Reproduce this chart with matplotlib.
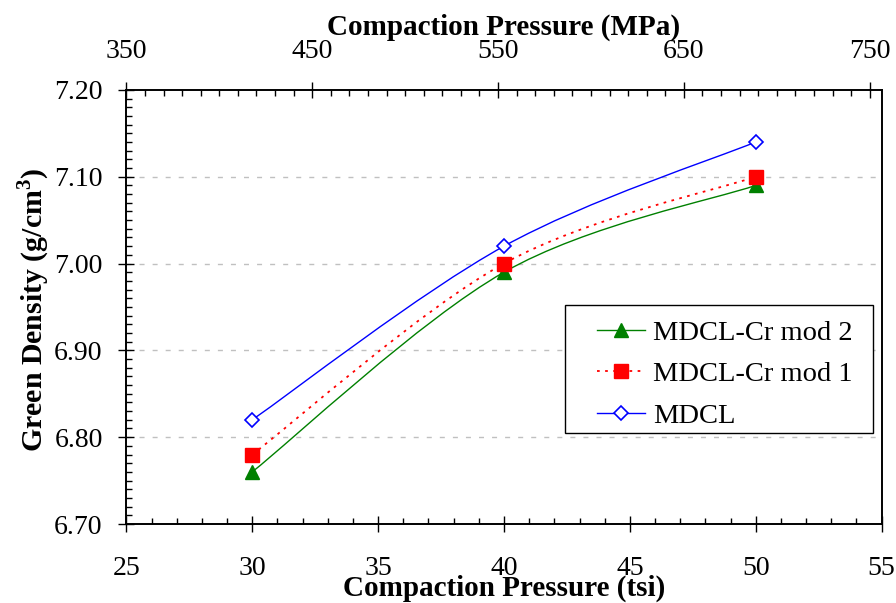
import matplotlib
matplotlib.use("Agg")
import matplotlib.pyplot as plt
import numpy as np
from matplotlib.path import Path
from matplotlib.patches import PathPatch, Rectangle
from matplotlib.lines import Line2D
from matplotlib.ticker import MultipleLocator, FormatStrFormatter

pressure_tsi = [30, 40, 50]
mdcl = [6.82, 7.02, 7.14]
mdcl_cr_mod1 = [6.78, 7.00, 7.10]
mdcl_cr_mod2 = [6.76, 6.99, 7.09]

series_names = ["MDCL-Cr mod 2", "MDCL-Cr mod 1", "MDCL"]
mpa_ticks = [350, 450, 550, 650, 750]

plt.rcParams['font.family'] = ['Liberation Serif', 'DejaVu Serif']
plt.rcParams['mathtext.fontset'] = 'custom'
plt.rcParams['mathtext.rm'] = 'Liberation Serif'
plt.rcParams['mathtext.bf'] = 'Liberation Serif:bold'


def smooth_path(x, y):
    # Excel-like smoothed line: Bezier segments with Catmull-Rom control points
    p = np.column_stack([x, y]).astype(float)
    n = len(p)
    verts = [p[0]]
    codes = [Path.MOVETO]
    for i in range(n - 1):
        p_prev = p[i - 1] if i > 0 else p[i]
        p_next = p[i + 2] if i + 2 < n else p[i + 1]
        c1 = p[i] + (p[i + 1] - p_prev) / 6.0
        c2 = p[i + 1] - (p_next - p[i]) / 6.0
        verts += [c1, c2, p[i + 1]]
        codes += [Path.CURVE4] * 3
    return Path(verts, codes)


fig = plt.figure(figsize=(8.96, 6.03), dpi=100)
ax = fig.add_axes([0.141, 0.131, 0.843, 0.720])

dotted = (0, (1.5, 3.0))
styles = [
    dict(color='#008000', ls='-', lw=1.0, marker='^', ms=10.5, mfc='#008000', mec='#008000', mew=1.0),
    dict(color='#FF0000', ls=dotted, lw=1.3, marker='s', ms=10.5, mfc='#FF0000', mec='#FF0000', mew=1.0),
    dict(color='#0000FF', ls='-', lw=1.0, marker='D', ms=7.2, mfc='white', mec='#0000FF', mew=1.2),
]
series = [mdcl_cr_mod2, mdcl_cr_mod1, mdcl]

handles = []
for name, vals, st in zip(series_names, series, styles):
    patch = PathPatch(smooth_path(pressure_tsi, vals), fill=False,
                      edgecolor=st['color'], linestyle=st['ls'], lw=st['lw'], zorder=3)
    ax.add_patch(patch)
    ax.plot(pressure_tsi, vals, ls='none', marker=st['marker'], ms=st['ms'],
            mfc=st['mfc'], mec=st['mec'], mew=st['mew'], zorder=4)
    handles.append(Line2D([], [], color=st['color'], ls=st['ls'], lw=st['lw'],
                          marker=st['marker'], ms=st['ms'], mfc=st['mfc'],
                          mec=st['mec'], mew=st['mew'], label=name))

ax.set_xlim(25, 55)
ax.set_ylim(6.70, 7.20)
ax.xaxis.set_major_locator(MultipleLocator(5))
ax.xaxis.set_minor_locator(MultipleLocator(1))
ax.yaxis.set_major_locator(MultipleLocator(0.1))
ax.yaxis.set_minor_locator(MultipleLocator(0.01))
ax.yaxis.set_major_formatter(FormatStrFormatter('%.2f'))

for yv in [6.80, 6.90, 7.00, 7.10]:
    ax.axhline(yv, color='#C0C0C0', lw=1.0, ls=(0, (3.6, 5.8)), zorder=1)

ax.tick_params(which='major', direction='inout', length=12, width=1.0,
               labelsize=20, top=False, right=False)
ax.tick_params(which='minor', direction='in', length=4.5, width=1.0,
               top=False, right=False)
ax.tick_params(axis='x', which='major', pad=17)
ax.tick_params(axis='y', which='major', pad=11)
for sp in ax.spines.values():
    sp.set_linewidth(1.2)

ax.set_xlabel('Compaction Pressure (tsi)', fontsize=21, fontweight='bold')
ax.xaxis.set_label_coords(0.5, -0.165)
ax.xaxis.label.set_verticalalignment('baseline')
ax.set_ylabel('Green Density (g/cm$^\\mathbf{3}$)', fontsize=21.5, fontweight='bold')
ax.yaxis.set_label_coords(-0.123, 0.493)
ax.yaxis.label.set_verticalalignment('center')

ax2 = ax.twiny()
ax2.set_xlim(350, 756.4)
ax2.set_xticks(mpa_ticks)
ax2.xaxis.set_minor_locator(MultipleLocator(10))
ax2.tick_params(which='major', direction='inout', length=12, width=1.0, labelsize=20, pad=12.5)
ax2.tick_params(which='minor', direction='in', length=4.5, width=1.0)
ax2.set_xlabel('Compaction Pressure (MPa)', fontsize=21, fontweight='bold')
ax2.xaxis.set_label_coords(0.5, 1.128)
ax2.xaxis.label.set_verticalalignment('baseline')
for sp in ax2.spines.values():
    sp.set_linewidth(1.2)

# legend box drawn separately so its padding matches the original
ax.add_patch(Rectangle((0.5807, 0.2097), 0.4073, 0.2949, transform=ax.transAxes,
                       facecolor='white', edgecolor='black', lw=1.0, zorder=5))
leg = ax.legend(handles=handles, loc='center left', bbox_to_anchor=(0.623, 0.345),
                fontsize=20.5, frameon=False, handlelength=1.68, borderpad=0.0,
                borderaxespad=0.0, labelspacing=0.55, handletextpad=0.28)
leg.set_zorder(6)

fig.savefig('out.png', dpi=100)
